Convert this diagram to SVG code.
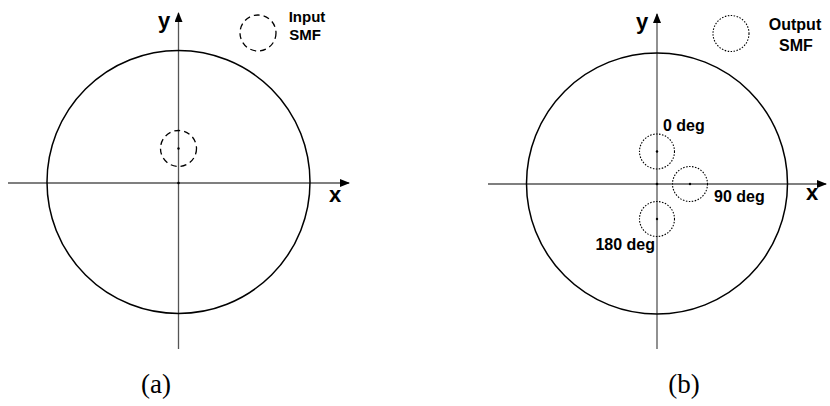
<svg xmlns="http://www.w3.org/2000/svg" width="830" height="406" viewBox="0 0 830 406">
<style>
.big{fill:none;stroke:#000;stroke-width:1.5}
.axis{stroke:#555;stroke-width:1.3;fill:none}
.dash{fill:none;stroke:#000;stroke-width:1.3;stroke-dasharray:6 4}
.dot{fill:none;stroke:#000;stroke-width:1.1;stroke-dasharray:1.5 1.5}
.pt{fill:#000}
.lbl{font-family:"Liberation Sans",Arial,sans-serif;font-weight:bold;fill:#000}
.cap{font-family:"Liberation Serif","Times New Roman",serif;font-size:27px;fill:#000}
</style>
<defs>
<marker id="arr" markerWidth="10" markerHeight="8" refX="9" refY="4" orient="auto" markerUnits="userSpaceOnUse">
<path d="M0,0 L10,4 L0,8 z" fill="#000"/>
</marker>
</defs>
<g id="connectors">
<line class="axis" x1="8" y1="183" x2="349" y2="183" marker-end="url(#arr)"/>
<line class="axis" x1="178.5" y1="349" x2="178.5" y2="13" marker-end="url(#arr)"/>
<line class="axis" x1="488" y1="184" x2="826" y2="184" marker-end="url(#arr)"/>
<line class="axis" x1="657" y1="349" x2="657" y2="14" marker-end="url(#arr)"/>
</g>
<g id="panel-a">
<circle class="big" cx="178.5" cy="182" r="131.5"/>
<g id="input-fiber"><circle class="dash" cx="178.5" cy="148.5" r="18"/><circle class="pt" cx="178.5" cy="148.5" r="1.2"/></g>
<circle class="pt" cx="178.5" cy="183" r="1.3"/>
<g id="input-legend"><circle class="dash" cx="258" cy="33" r="18"/>
<text class="lbl" x="307" y="22" font-size="15" text-anchor="middle">Input</text>
<text class="lbl" x="305" y="40" font-size="15" text-anchor="middle">SMF</text></g>
<text class="lbl" x="164" y="28" font-size="22" text-anchor="middle">y</text>
<text class="lbl" x="335" y="202" font-size="22" text-anchor="middle">x</text>
<text class="cap" x="156" y="393" text-anchor="middle">(a)</text>
</g>
<g id="panel-b">
<circle class="big" cx="657" cy="183.5" r="130.5"/>
<circle class="pt" cx="657" cy="184" r="1.3"/>
<g id="fiber-0"><circle class="dot" cx="657" cy="151.5" r="17.5"/><circle class="pt" cx="657" cy="151.5" r="1.2"/>
<text class="lbl" x="663" y="131" font-size="16">0 deg</text></g>
<g id="fiber-90"><circle class="dot" cx="690" cy="184" r="17.5"/><circle class="pt" cx="690" cy="184" r="1.2"/>
<text class="lbl" x="714" y="202" font-size="16">90 deg</text></g>
<g id="fiber-180"><circle class="dot" cx="657" cy="219" r="17.5"/><circle class="pt" cx="657" cy="219" r="1.2"/>
<text class="lbl" x="655" y="250" font-size="16" text-anchor="end">180 deg</text></g>
<g id="output-legend"><circle class="dot" cx="731" cy="33.5" r="18"/>
<text class="lbl" x="795" y="30" font-size="16" text-anchor="middle">Output</text>
<text class="lbl" x="796" y="51" font-size="16" text-anchor="middle">SMF</text></g>
<text class="lbl" x="642" y="29" font-size="22" text-anchor="middle">y</text>
<text class="lbl" x="812" y="200" font-size="22" text-anchor="middle">x</text>
<text class="cap" x="684" y="393" text-anchor="middle">(b)</text>
</g>
</svg>
